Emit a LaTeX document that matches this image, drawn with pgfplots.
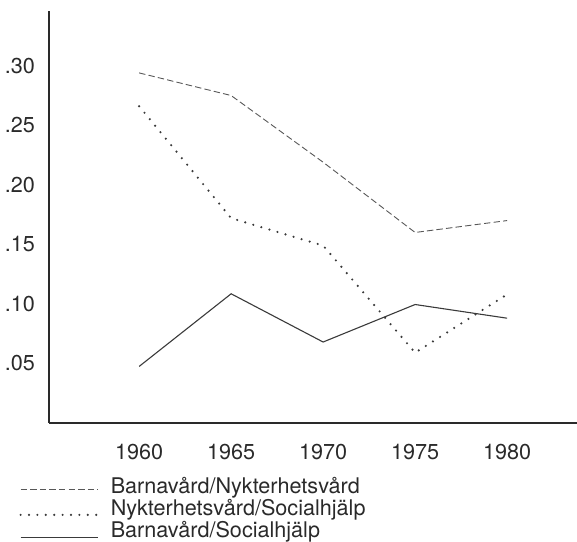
\documentclass[border=0pt]{standalone}
\usepackage{fontspec}
\setmainfont{TeX Gyre Heros}
\usepackage{pgfplots}
\pgfplotsset{compat=1.18}
\definecolor{ink}{HTML}{2A2A2A}
\definecolor{lin}{HTML}{3A3A3A}
\pgfplotsset{
  legdash/.style={legend image code/.code={\draw[##1] (0pt,-1.2pt) -- (38.5pt,-1.2pt); \path (44.5pt,0pt) (0pt,3pt) (0pt,-3pt);}},
}
\begin{document}
\begin{tikzpicture}
\begin{axis}[
  scale only axis,
  width=264pt, height=206pt,
  xmin=1955.1, xmax=1983.8,
  ymin=0, ymax=0.346,
  axis lines=left,
  axis line style={-, line width=1pt, color=ink},
  major tick length=0pt,
  xtick={1960,1965,1970,1975,1980},
  xticklabels={1960,1965,1970,1975,1980},
  ytick={0.05,0.10,0.15,0.20,0.25,0.30},
  yticklabels={.05,.10,.15,.20,.25,.30},
  tick label style={font=\fontsize{10.8}{12}\selectfont, text=ink},
  xticklabel style={yshift=-7.3pt},
  yticklabel style={xshift=-3.5pt},
  /pgf/number format/assume math mode=true,
  legend style={at={(axis description cs:0,0)}, anchor=north west,
    xshift=-15pt, yshift=-26.8pt, draw=none, fill=none, inner sep=0pt,
    row sep=0.7pt,
    font=\fontsize{10.8}{12}\selectfont, text=ink,
    cells={anchor=west},
    nodes={inner ysep=0.5pt, inner xsep=0pt, text height=7.6pt, text depth=1.9pt}},
  legend image code/.code={\draw[#1] (0pt,-2.5pt) -- (38.5pt,-2.5pt); \path (44.5pt,0pt) (0pt,3pt) (0pt,-3pt);},
]
\addplot[color=lin!85, line width=0.45pt, dash pattern=on 3.2pt off 1.6pt, legdash] coordinates {
  (1960,0.294) (1965,0.275) (1970,0.219) (1975,0.160) (1980,0.170)};
\addlegendentry{Barnavård/Nykterhetsvård}
\addplot[color=lin, line width=1.2pt, line cap=round, dash pattern=on 0pt off 4.2pt] coordinates {
  (1960,0.266) (1965,0.172) (1970,0.149) (1975,0.059) (1980,0.108)};
\addlegendentry{Nykterhetsvård/Socialhjälp}
\addplot[color=lin, line width=0.55pt] coordinates {
  (1960,0.0475) (1965,0.1085) (1970,0.068) (1975,0.0995) (1980,0.088)};
\addlegendentry{Barnavård/Socialhjälp}
\end{axis}
\pgfresetboundingbox
\path ([xshift=-24.5pt,yshift=-59.5pt]current axis.south west) rectangle ([yshift=5.5pt]current axis.north east);
\end{tikzpicture}
\end{document}
